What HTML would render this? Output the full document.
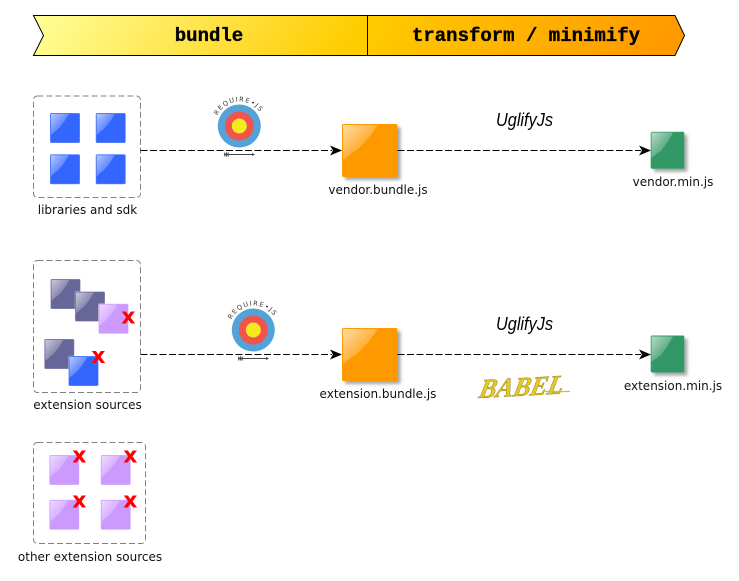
<!DOCTYPE html>
<html><head><meta charset="utf-8"><style>
html,body{margin:0;padding:0;background:#fff}
svg{display:block}
.l{font-family:"DejaVu Sans",sans-serif;font-size:12px;fill:#111;text-anchor:middle}
.t{font-family:"Liberation Mono",monospace;font-weight:bold;font-size:19px;fill:#000;stroke:#000;stroke-width:.35;text-anchor:middle}
.u{font-family:"Liberation Sans",sans-serif;font-style:italic;font-size:18px;fill:#000}
.x{font-family:"DejaVu Sans",sans-serif;font-weight:bold;font-size:22px;fill:#f00;text-anchor:middle}
.a{fill:none;stroke:#000;stroke-width:1;stroke-dasharray:7 2.500}
.b{fill:#fff;stroke:#808080;stroke-width:1;stroke-dasharray:6 3}
.r{font-family:"DejaVu Sans",sans-serif;font-size:6.500px;letter-spacing:1.300px;fill:#333}
</style></head><body>
<svg width="739" height="581" viewBox="0 0 739 581" xmlns="http://www.w3.org/2000/svg">
<defs>
<linearGradient id="g1" x1="0" y1="0" x2="1" y2="0.08"><stop offset="0" stop-color="#ffff99"/><stop offset="1" stop-color="#ffcc00"/></linearGradient>
<linearGradient id="g2" x1="0" y1="0" x2="1" y2="0.08"><stop offset="0" stop-color="#ffcc00"/><stop offset="1" stop-color="#ff9900"/></linearGradient>
<linearGradient id="gl" x1="0" y1="0" x2="0.9" y2="0.9"><stop offset="0" stop-color="#fff" stop-opacity=".65"/><stop offset=".85" stop-color="#fff" stop-opacity=".06"/><stop offset="1" stop-color="#fff" stop-opacity="0"/></linearGradient>
<filter id="s" x="-20%" y="-20%" width="150%" height="150%"><feDropShadow dx="3" dy="3" stdDeviation="1.600" flood-color="#000" flood-opacity=".35"/></filter>
<symbol id="q" viewBox="0 0 30 30" overflow="visible">
<path d="M1 1H19Q14 10 8 16Q4 19 1 22Z" fill="url(#gl)" stroke="none"/>
</symbol>
<path id="arc1" d="M217.600 115.600A24.500 24.500 0 0 1 262 115.600"/>
<path id="arc2" d="M231.600 319.600A24.500 24.500 0 0 1 276 319.600"/>
</defs>

<path d="M33.500 15.500H367.500V55.500H33.500L43.500 35.500Z" fill="url(#g1)" stroke="#000"/>
<path d="M367.500 15.500H675L684.500 35.500L675 55.500H367.500Z" fill="url(#g2)" stroke="#000"/>
<text class="t" x="209" y="41">bundle</text>
<text class="t" x="526" y="41">transform / minimify</text>

<rect class="b" x="33.500" y="96" width="107" height="101.500" rx="4"/>
<rect class="b" x="33.500" y="260.500" width="107" height="132" rx="4"/>
<rect class="b" x="33.500" y="442.500" width="112" height="101" rx="4"/>

<g stroke="#fff" stroke-opacity=".3">
<rect x="50" y="113" width="30" height="30" rx="1.500" fill="#3366ff"/><use href="#q" x="50" y="113" width="30" height="30"/>
<rect x="95.700" y="113" width="30" height="30" rx="1.500" fill="#3366ff"/><use href="#q" x="95.700" y="113" width="30" height="30"/>
<rect x="50" y="154.300" width="30" height="30" rx="1.500" fill="#3366ff"/><use href="#q" x="50" y="154.300" width="30" height="30"/>
<rect x="95.700" y="154.300" width="30" height="30" rx="1.500" fill="#3366ff"/><use href="#q" x="95.700" y="154.300" width="30" height="30"/>

<rect x="50.500" y="279" width="30" height="30" rx="1.500" fill="#666699"/><use href="#q" x="50.500" y="279" width="30" height="30"/>
<rect x="75" y="291.500" width="30" height="30" rx="1.500" fill="#666699"/><use href="#q" x="75" y="291.500" width="30" height="30"/>
<rect x="98.500" y="303.700" width="30" height="30" rx="1.500" fill="#cc99ff"/><use href="#q" x="98.500" y="303.700" width="30" height="30"/>
<rect x="44.300" y="339" width="30" height="30" rx="1.500" fill="#666699"/><use href="#q" x="44.300" y="339" width="30" height="30"/>
<rect x="68.500" y="356" width="30" height="30" rx="1.500" fill="#3366ff"/><use href="#q" x="68.500" y="356" width="30" height="30"/>

<rect x="49.300" y="455" width="30" height="30" rx="1.500" fill="#cc99ff"/><use href="#q" x="49.300" y="455" width="30" height="30"/>
<rect x="100.700" y="455" width="30" height="30" rx="1.500" fill="#cc99ff"/><use href="#q" x="100.700" y="455" width="30" height="30"/>
<rect x="49.300" y="499.700" width="30" height="30" rx="1.500" fill="#cc99ff"/><use href="#q" x="49.300" y="499.700" width="30" height="30"/>
<rect x="100.700" y="499.700" width="30" height="30" rx="1.500" fill="#cc99ff"/><use href="#q" x="100.700" y="499.700" width="30" height="30"/>
</g>

<text class="x" x="128.300" y="323.500">x</text>
<text class="x" x="98.300" y="363">x</text>
<text class="x" x="79.300" y="462.500">x</text>
<text class="x" x="130.300" y="462.500">x</text>
<text class="x" x="79.300" y="507.500">x</text>
<text class="x" x="130.300" y="507.500">x</text>

<g filter="url(#s)"><rect x="342" y="124" width="55.500" height="53" rx="1.500" fill="#ff9900"/></g>
<path d="M343 125H378Q370 137 358 149Q350 154 343 160Z" fill="url(#gl)"/>
<g filter="url(#s)"><rect x="342" y="328" width="55.500" height="53" rx="1.500" fill="#ff9900"/></g>
<path d="M343 329H378Q370 341 358 353Q350 358 343 364Z" fill="url(#gl)"/>
<g filter="url(#s)"><rect x="650.700" y="131.700" width="33.600" height="37" rx="1.500" fill="#339966"/></g>
<path d="M651.500 132.500H673Q668 142 661 151Q656 154 651.500 158Z" fill="url(#gl)"/>
<g filter="url(#s)"><rect x="650.700" y="335.500" width="33.600" height="37" rx="1.500" fill="#339966"/></g>
<path d="M651.500 336.500H673Q668 346 661 355Q656 358 651.500 362Z" fill="url(#gl)"/>

<path class="a" d="M140.500 150.500H332"/>
<path class="a" d="M397.500 150.500H641"/>
<path class="a" d="M140.500 354.500H332"/>
<path class="a" d="M397.500 354.500H641"/>
<path d="M330 145.500L342 150.500L330 155.500L333 150.500Z"/>
<path d="M639 145.500L651 150.500L639 155.500L642 150.500Z"/>
<path d="M330 349.500L342 354.500L330 359.500L333 354.500Z"/>
<path d="M639 349.500L651 354.500L639 359.500L642 354.500Z"/>

<circle cx="239.300" cy="126" r="21.500" fill="#54a3d8"/>
<circle cx="239.300" cy="126" r="14.500" fill="#f2534b"/>
<circle cx="239.300" cy="126" r="7.500" fill="#f4ea1f"/>
<text class="r"><textPath href="#arc1">REQUIRE•JS</textPath></text>
<path d="M224 154.500H254" stroke="#444" stroke-width="1" fill="none"/><path d="M255 154.500l-3-1.500v3Z" fill="#444"/>
<path d="M224 152.500l3 4M227 152.500l-3 4M226 152.500l3 4M229 152.500l-3 4" stroke="#444" stroke-width=".7"/>

<circle cx="253.300" cy="330" r="21.500" fill="#54a3d8"/>
<circle cx="253.300" cy="330" r="14.500" fill="#f2534b"/>
<circle cx="253.300" cy="330" r="7.500" fill="#f4ea1f"/>
<text class="r"><textPath href="#arc2">REQUIRE•JS</textPath></text>
<path d="M238 358.500H268" stroke="#444" stroke-width="1" fill="none"/><path d="M269 358.500l-3-1.500v3Z" fill="#444"/>
<path d="M238 356.500l3 4M241 356.500l-3 4M240 356.500l3 4M243 356.500l-3 4" stroke="#444" stroke-width=".7"/>

<text class="u" x="496" y="126" textLength="57" lengthAdjust="spacingAndGlyphs">UglifyJs</text>
<text class="u" x="496" y="330" textLength="57" lengthAdjust="spacingAndGlyphs">UglifyJs</text>

<text x="0" y="0" font-family="Liberation Serif,serif" font-style="italic" font-weight="bold" font-size="27" fill="#e6c92a" stroke="#8f8012" stroke-width=".5" textLength="84" lengthAdjust="spacingAndGlyphs" transform="translate(478 398) rotate(-3) skewX(-15)">BABEL</text>
<path d="M545 391.500H570" stroke="#d9bd2a" stroke-width="1.300"/>

<text class="l" x="87.500" y="214">libraries and sdk</text>
<text class="l" x="87.500" y="409">extension sources</text>
<text class="l" x="90" y="561">other extension sources</text>
<text class="l" x="378" y="194">vendor.bundle.js</text>
<text class="l" x="378" y="398">extension.bundle.js</text>
<text class="l" x="673" y="186">vendor.min.js</text>
<text class="l" x="673" y="390">extension.min.js</text>
</svg>
</body></html>
